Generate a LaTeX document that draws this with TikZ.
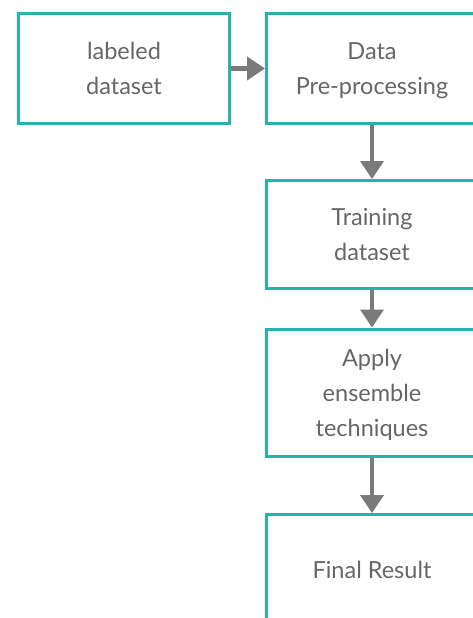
\documentclass[tikz,border=0pt]{standalone}
\usepackage{fontspec}
\setmainfont{Lato}
\usetikzlibrary{arrows.meta}
\definecolor{teal1}{HTML}{26B3AC}
\definecolor{arrowgray}{HTML}{7A7A7A}
\definecolor{textgray}{HTML}{666666}
\begin{document}
\begin{tikzpicture}[x=1pt,y=1pt,
  box/.style={draw=teal1, line width=3pt, fill=white, rectangle, inner sep=0pt,
    align=center, text=textgray, text depth=-4pt, font=\fontsize{23.5}{35}\selectfont},
  conn/.style={draw=arrowgray, line width=4pt, -{Triangle[width=23pt,length=18pt]}}]
\useasboundingbox (0,0) rectangle (473,-618);
\clip (0,0) rectangle (473,-618);
\node[box, minimum width=211pt, minimum height=110pt] (b1) at (124,-68.5) {labeled\\dataset};
\node[box, minimum width=211pt, minimum height=110pt] (b2) at (372,-68.5) {Data\\Pre-processing};
\node[box, minimum width=211pt, minimum height=108pt] (b3) at (372,-234.5) {Training\\dataset};
\node[box, minimum width=211pt, minimum height=127pt] (b4) at (372,-392.5) {Apply\\ensemble\\techniques};
\node[box, minimum width=211pt, minimum height=110pt] (b5) at (372,-569.5) {Final Result};
\draw[conn] (b1.east) -- (b2.west);
\draw[conn] (b2.south) -- (b3.north);
\draw[conn] (b3.south) -- (b4.north);
\draw[conn] (b4.south) -- (b5.north);
\end{tikzpicture}
\end{document}
